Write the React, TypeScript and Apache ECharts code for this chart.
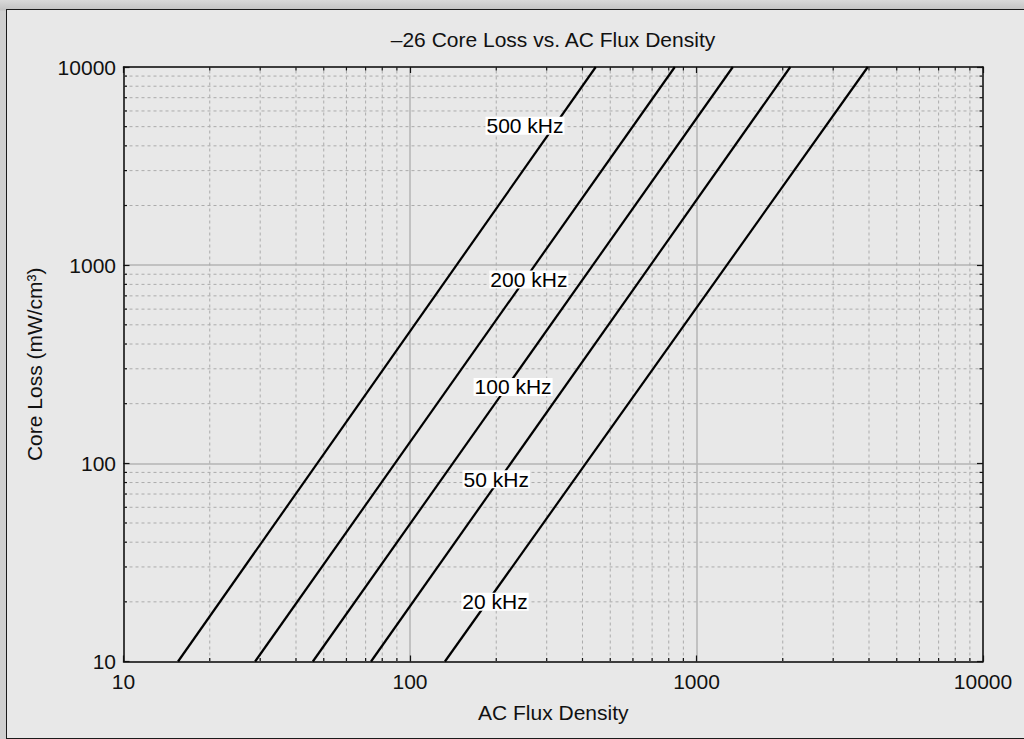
import React, { useEffect, useRef } from "react";
import * as echarts from "echarts";

const FONT = "'Liberation Sans', Arial, Helvetica, sans-serif";

const titleText = "\u201326 Core Loss vs. AC Flux Density";
const xName = "AC Flux Density";
const yName = "Core Loss (mW/cm\u00b3)";

// Each curve: flux density where loss = 10 and where loss = 10000
const frequencies = ["500 kHz", "200 kHz", "100 kHz", "50 kHz", "20 kHz"];
const fluxAtLow = [15.5, 28.8, 45.8, 73.1, 132.4];
const fluxAtHigh = [445, 840, 1339, 2125, 3961];
const lossLow = 10;
const lossHigh = 10000;

// label anchor positions (flux, loss)
const labelFlux = [252, 260, 229, 200, 198];
const labelLoss = [5060, 846, 243, 83, 20];

const axisMin = 10;
const axisMax = 10000;
const minorValues = [
  20, 30, 40, 50, 60, 70, 80, 90,
  200, 300, 400, 500, 600, 700, 800, 900,
  2000, 3000, 4000, 5000, 6000, 7000, 8000, 9000,
];

export default function App() {
  const ref = useRef<HTMLDivElement>(null);

  useEffect(() => {
    if (!ref.current) return;
    const chart = echarts.init(ref.current, null, { renderer: "svg" });

    const axisLineStyle = { lineStyle: { color: "#111", width: 1.5 } };
    const baseLog = {
      type: "log" as const,
      logBase: 10,
      min: axisMin,
      max: axisMax,
      axisLine: { show: true, onZero: false, ...axisLineStyle },
      axisTick: { show: true, inside: true, length: 6, lineStyle: { color: "#111", width: 1.2 } },
      minorTick: { show: false },
      minorSplitLine: { show: false },
    };
    const fmt = (v: number) => String(Math.round(v));

    const lineSeries = frequencies.map((f, i) => ({
      name: f,
      type: "line",
      xAxisIndex: 0,
      yAxisIndex: 0,
      data: [
        [fluxAtLow[i], lossLow],
        [fluxAtHigh[i], lossHigh],
      ],
      symbol: "none",
      lineStyle: { color: "#000", width: 2.2 },
      z: 4,
      silent: true,
    }));

    const tickLen = 3.5;

    const option: any = {
      animation: false,
      backgroundColor: "transparent",
      textStyle: { fontFamily: FONT },
      title: {
        text: titleText,
        left: 553,
        top: 29,
        textAlign: "center",
        padding: 0,
        textStyle: { fontFamily: FONT, fontSize: 21, fontWeight: "normal", color: "#111" },
      },
      grid: { left: 123.5, right: 41, top: 67, bottom: 77.5, containLabel: false },
      xAxis: [
        {
          ...baseLog,
          position: "bottom",
          name: xName,
          nameLocation: "middle",
          nameGap: 40,
          nameTextStyle: { fontFamily: FONT, fontSize: 21, color: "#111" },
          axisLabel: { show: true, margin: 9, fontFamily: FONT, fontSize: 21, color: "#111", formatter: fmt },
          splitLine: { show: true, lineStyle: { color: "#b4b4b4", width: 1.5 } },
        },
        {
          ...baseLog,
          position: "top",
          axisLabel: { show: false },
          splitLine: { show: false },
        },
      ],
      yAxis: [
        {
          ...baseLog,
          position: "left",
          name: yName,
          nameLocation: "middle",
          nameGap: 79,
          nameTextStyle: { fontFamily: FONT, fontSize: 21, color: "#111" },
          axisLabel: { show: true, margin: 7.5, fontFamily: FONT, fontSize: 21, color: "#111", formatter: fmt },
          splitLine: { show: true, lineStyle: { color: "#b4b4b4", width: 1.5 } },
        },
        {
          ...baseLog,
          position: "right",
          axisLabel: { show: false },
          splitLine: { show: false },
        },
      ],
      series: [
        {
          type: "custom",
          xAxisIndex: 0,
          yAxisIndex: 0,
          z: 1,
          silent: true,
          clip: false,
          encode: { x: 0, y: 1 },
          data: minorValues.map((v) => [v, axisMin]),
          renderItem: (params: any, api: any) => {
            const v = api.value(0);
            const b = api.coord([v, axisMin]);
            const t = api.coord([v, axisMax]);
            return {
              type: "group",
              children: [
                {
                  type: "line",
                  shape: { x1: b[0], y1: b[1], x2: t[0], y2: t[1] },
                  style: { stroke: "#ababab", lineWidth: 1, lineDash: [3, 3] },
                },
                {
                  type: "line",
                  shape: { x1: b[0], y1: b[1], x2: b[0], y2: b[1] - tickLen },
                  style: { stroke: "#111", lineWidth: 1.2 },
                },
                {
                  type: "line",
                  shape: { x1: t[0], y1: t[1], x2: t[0], y2: t[1] + tickLen },
                  style: { stroke: "#111", lineWidth: 1.2 },
                },
              ],
            };
          },
        },
        {
          type: "custom",
          xAxisIndex: 0,
          yAxisIndex: 0,
          z: 1,
          silent: true,
          clip: false,
          encode: { x: 0, y: 1 },
          data: minorValues.map((v) => [axisMin, v]),
          renderItem: (params: any, api: any) => {
            const v = api.value(1);
            const l = api.coord([axisMin, v]);
            const r = api.coord([axisMax, v]);
            return {
              type: "group",
              children: [
                {
                  type: "line",
                  shape: { x1: l[0], y1: l[1], x2: r[0], y2: r[1] },
                  style: { stroke: "#ababab", lineWidth: 1, lineDash: [3, 3] },
                },
                {
                  type: "line",
                  shape: { x1: l[0], y1: l[1], x2: l[0] + tickLen, y2: l[1] },
                  style: { stroke: "#111", lineWidth: 1.2 },
                },
                {
                  type: "line",
                  shape: { x1: r[0], y1: r[1], x2: r[0] - tickLen, y2: r[1] },
                  style: { stroke: "#111", lineWidth: 1.2 },
                },
              ],
            };
          },
        },
        ...lineSeries,
        {
          type: "custom",
          xAxisIndex: 0,
          yAxisIndex: 0,
          z: 6,
          silent: true,
          clip: false,
          encode: { x: 0, y: 1 },
          data: frequencies.map((f, i) => [labelFlux[i], labelLoss[i], i]),
          renderItem: (params: any, api: any) => {
            const p = api.coord([api.value(0), api.value(1)]);
            const idx = api.value(2);
            return {
              type: "text",
              x: p[0],
              y: p[1],
              style: {
                text: frequencies[idx],
                fill: "#000",
                fontSize: 21,
                fontFamily: FONT,
                align: "center",
                verticalAlign: "middle",
                lineHeight: 18,
                backgroundColor: "#ffffff",
                padding: [0, 1, 0, 1],
              },
            };
          },
        },
      ],
    };

    chart.setOption(option);
    return () => chart.dispose();
  }, []);

  return (
    <div
      style={{
        position: "fixed",
        left: 0,
        top: 0,
        width: 1024,
        height: 739,
        overflow: "hidden",
        background: "linear-gradient(to bottom, #d9d9d9 0px, #c2c2c2 10px, #cfcfcf 11px)",
      }}
    >
      <div
        style={{
          position: "absolute",
          left: 6,
          top: 9,
          width: 1100,
          height: 730,
          boxSizing: "border-box",
          border: "1.2px solid #1a1a1a",
          background: "#e8e8e8",
        }}
      />
      <div
        ref={ref}
        style={{ position: "absolute", left: 0, top: 0, width: 1024, height: 739 }}
      />
    </div>
  );
}
